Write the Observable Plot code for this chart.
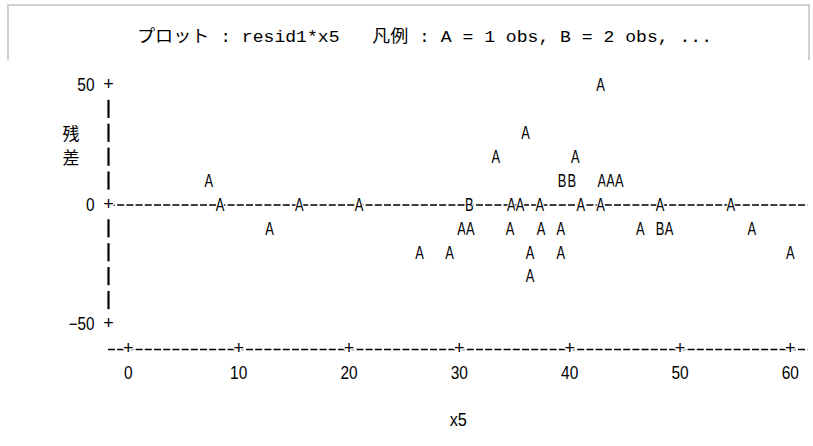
<!DOCTYPE html>
<html>
<head>
<meta charset="utf-8">
<script src="https://cdn.jsdelivr.net/npm/d3@7"></script>
<script src="https://cdn.jsdelivr.net/npm/@observablehq/plot@0.6"></script>
<style>
  body { margin: 0; background: #fff; }
  #wrap { position: relative; width: 813px; height: 446px; overflow: hidden; background: #fff; }
  #frame { position: absolute; left: 7px; top: 4px; width: 803px; height: 470px; border: 2px solid #d0d0d0; border-bottom: none; box-sizing: border-box; }
  #title { position: absolute; top: 28px; left: 137px; font-size: 17px; line-height: 20px; white-space: pre; color: #000;
           font-family: "Liberation Mono", "Noto Sans CJK JP", monospace; transform-origin: 0 50%; }
  #chart { position: absolute; top: 60px; left: 0; }
</style>
</head>
<body>
<div id="wrap">
  <div id="frame"></div>
  <div id="title"></div>
  <div id="chart"></div>
</div>
<script>
const FONT = '"Liberation Sans", "Noto Sans CJK JP", sans-serif';

// ---- data (one entry per observation; coincident cells give B = 2 obs) ----
const x5 = [
  42.8,
  36.0,
  33.3, 40.5,
  7.3, 39.3, 39.3, 40.2, 40.2, 42.9, 43.7, 44.5,
  8.3, 15.5, 20.9, 30.9, 30.9, 34.7, 35.5, 37.3, 41.0, 42.8, 48.2, 54.6,
  12.8, 30.2, 31.0, 34.6, 37.4, 39.2, 46.4, 48.2, 48.2, 49.0, 56.5,
  26.4, 29.1, 36.4, 39.2, 60.0,
  36.4
];
const resid1 = [
  50,
  30,
  20, 20,
  10, 10, 10, 10, 10, 10, 10, 10,
  0, 0, 0, 0, 0, 0, 0, 0, 0, 0, 0, 0,
  -10, -10, -10, -10, -10, -10, -10, -10, -10, -10, -10,
  -20, -20, -20, -20, -20,
  -30
];
const xTicks = [0, 10, 20, 30, 40, 50, 60];
const yTicks = [-50, 0, 50];
const titleText = "プロット : resid1*x5   凡例 : A = 1 obs, B = 2 obs, ...";
const xLabel = "x5";
const yLabel = "残\n差";

// ---- title ----
const titleEl = document.getElementById("title");
titleEl.textContent = titleText;
const tw = titleEl.getBoundingClientRect().width;
titleEl.style.transform = "scaleX(" + (575 / tw) + ")";

// ---- cells: count observations per print position ----
const cells = d3.rollups(d3.range(x5.length), v => v.length, i => x5[i] + "|" + resid1[i])
  .map(([k, n]) => {
    const [x, y] = k.split("|").map(Number);
    return {x, y, letter: String.fromCharCode(64 + n)};
  });

const xDomain = [-1.8, 61.6];
const yDomain = [-60.5, 50];
const pipeRows = d3.range(-40, 50, 10).filter(r => r !== 0);

const chart = Plot.plot({
  width: 813,
  height: 386,
  marginLeft: 108,
  marginRight: 5.5,
  marginTop: 25,
  marginBottom: 97,
  x: {domain: xDomain},
  y: {domain: yDomain},
  style: {fontFamily: FONT, fontSize: "17px", color: "#000", background: "#fff"},
  marks: [
    Plot.ruleY([0], {stroke: "#000", strokeWidth: 1.6, strokeDasharray: "7,2.2"}),
    Plot.ruleY([yDomain[0]], {stroke: "#000", strokeWidth: 1.6, strokeDasharray: "7,2.2"}),
    Plot.ruleX(pipeRows, {x: xDomain[0], y1: d => d - 3.8, y2: d => d + 3.8, stroke: "#000", strokeWidth: 2.2}),
    Plot.text(yTicks, {x: xDomain[0], y: d => d, text: () => "+", fontSize: 18, fill: "#000",
      stroke: "white", strokeWidth: 3, dy: -1}),
    Plot.text(xTicks, {x: d => d, y: yDomain[0], text: () => "+", fontSize: 18, fill: "#000",
      stroke: "white", strokeWidth: 3, dy: -1}),
    Plot.axisY(yTicks, {tickSize: 0, tickPadding: 14, fontSize: 18, label: null,
      tickFormat: d => d < 0 ? "\u2212" + (-d) : String(d)}),
    Plot.axisX(xTicks, {tickSize: 0, tickPadding: 17, fontSize: 18, label: null}),
    Plot.text(cells, {x: "x", y: "y", text: "letter", fontSize: 18, fill: "#000",
      stroke: "white", strokeWidth: 3}),
    Plot.text([xLabel], {frameAnchor: "bottom", lineAnchor: "middle", dy: 71, fontSize: 18, fill: "#000"}),
    Plot.text([yLabel], {frameAnchor: "top-left", lineAnchor: "middle", dx: -46, dy: 59, fontSize: 17, lineHeight: 1.41, fill: "#000"})
  ]
});
document.getElementById("chart").appendChild(chart);

// condense Latin glyphs to the line-printer character pitch
chart.querySelectorAll("text").forEach(t => {
  if (t.querySelector("tspan")) return;
  const s = t.textContent;
  if (s === "+" || /[^\x00-\x7f\u2212]/.test(s)) return;
  t.setAttribute("textLength", s.length * 8.6);
  t.setAttribute("lengthAdjust", "spacingAndGlyphs");
});
</script>
</body>
</html>
